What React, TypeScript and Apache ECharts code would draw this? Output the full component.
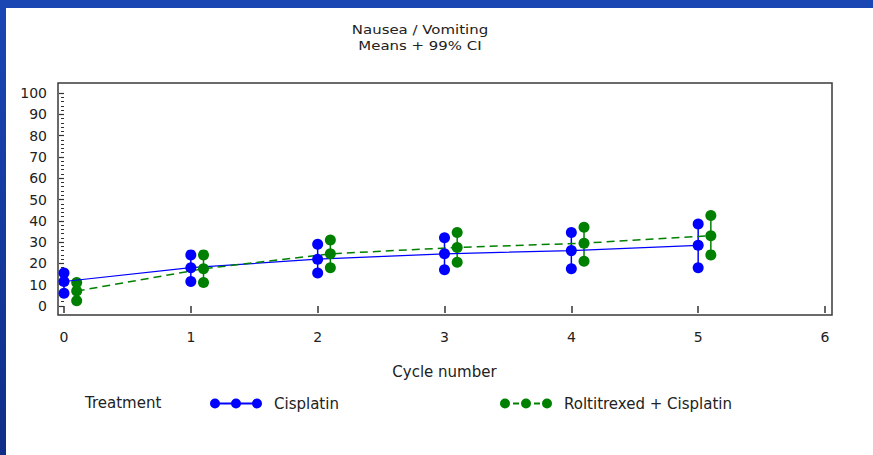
import React, { useEffect, useRef } from "react";
import * as echarts from "echarts";

// ---- data ----
const cycleTicks = [0, 1, 2, 3, 4, 5, 6];
const cisCycles = [0, 1, 2, 3, 4, 5];
const cisMean = [11.5, 18, 22, 24.5, 26, 28.5];
const cisLow = [6, 11.5, 15.5, 17, 17.5, 18];
const cisHigh = [15.5, 24, 29, 32, 34.5, 38.5];

const rcCycles = [0.1, 1.1, 2.1, 3.1, 4.1, 5.1];
const rcMean = [7, 17.5, 24.5, 27.5, 29.5, 33];
const rcLow = [2.5, 11, 18, 20.5, 21, 24];
const rcHigh = [11, 24, 31, 34.5, 37, 42.5];

const yTicks = [0, 10, 20, 30, 40, 50, 60, 70, 80, 90, 100];

const titleLines = ["Nausea / Vomiting", "Means + 99% CI"];
const xName = "Cycle number";
const legendTitle = "Treatment";
const seriesNames = ["Cisplatin", "Roltitrexed + Cisplatin"];

const FONT = "DejaVu Sans";
const BLUE = "#0000ff";
const GREEN = "#008000";
const TXT = "#222222";

// legend icons: three dots joined by a line (solid) or short dashes
const circ = (cx: number) =>
  `M${cx - 5},5 A5,5 0 1,1 ${cx + 5},5 A5,5 0 1,1 ${cx - 5},5 Z`;
const solidIcon =
  "path://" + circ(5) + circ(26) + circ(47) + "M5,4 L47,4 L47,6 L5,6 Z";
const dashIcon =
  "path://" +
  circ(5) +
  circ(26) +
  circ(47) +
  "M13,4 L19,4 L19,6 L13,6 Z M34,4 L40,4 L40,6 L34,6 Z";

function ciSeries(name: string, xs: number[], lo: number[], hi: number[], color: string) {
  return {
    type: "custom",
    name,
    z: 2,
    data: xs.map((x, i) => [x, lo[i], hi[i]]),
    encode: { x: 0, y: [1, 2] },
    renderItem: (_p: any, api: any) => {
      const x = api.value(0);
      const a = api.coord([x, api.value(1)]);
      const b = api.coord([x, api.value(2)]);
      return {
        type: "group",
        children: [
          {
            type: "line",
            shape: { x1: a[0], y1: a[1], x2: b[0], y2: b[1] },
            style: { stroke: color, lineWidth: 1.5 },
          },
          { type: "circle", shape: { cx: a[0], cy: a[1], r: 5.5 }, style: { fill: color } },
          { type: "circle", shape: { cx: b[0], cy: b[1], r: 5.5 }, style: { fill: color } },
        ],
      };
    },
  };
}

export default function App() {
  const ref = useRef<HTMLDivElement>(null);
  useEffect(() => {
    if (!ref.current) return;
    const chart = echarts.init(ref.current, undefined, { renderer: "svg" });
    const legendText = { fontFamily: FONT, fontSize: 15, color: TXT, padding: [0, 0, 0, 6] };
    const titleStyle = (t: string) => ({
      text: t,
      fontFamily: FONT,
      fontSize: 13,
      fill: TXT,
      textAlign: "center",
      textVerticalAlign: "middle",
    });
    chart.setOption({
      animation: false,
      backgroundColor: "#ffffff",
      textStyle: { fontFamily: FONT },
      grid: { left: 64, right: 48, top: 93, bottom: 149, containLabel: false },
      xAxis: {
        type: "value",
        min: cycleTicks[0],
        max: cycleTicks[cycleTicks.length - 1],
        interval: 1,
        offset: 9,
        name: xName,
        nameLocation: "middle",
        nameGap: 49,
        nameTextStyle: { fontFamily: FONT, fontSize: 15, color: TXT },
        axisLine: { show: false },
        axisTick: { show: true, length: 7, lineStyle: { color: "#333", width: 1.5 } },
        axisLabel: { margin: 15, fontFamily: FONT, fontSize: 14, color: TXT },
        splitLine: { show: false },
      },
      yAxis: {
        type: "value",
        min: yTicks[0],
        max: yTicks[yTicks.length - 1],
        interval: 10,
        offset: 6,
        axisLine: { show: false },
        axisTick: { show: true, length: 5, lineStyle: { color: "#333", width: 1.2 } },
        minorTick: { show: true, splitNumber: 5, length: 3, lineStyle: { color: "#333", width: 1 } },
        axisLabel: { margin: 11, fontFamily: FONT, fontSize: 14, color: TXT },
        splitLine: { show: false },
      },
      legend: [
        {
          data: [{ name: seriesNames[0], icon: solidIcon }],
          left: 205,
          top: 391,
          itemWidth: 54,
          itemHeight: 10,
          selectedMode: false,
          textStyle: legendText,
        },
        {
          data: [{ name: seriesNames[1], icon: dashIcon }],
          left: 495,
          top: 391,
          itemWidth: 54,
          itemHeight: 10,
          selectedMode: false,
          textStyle: legendText,
        },
      ],
      graphic: [
        {
          type: "rect",
          shape: { x: 0, y: 0, width: 873, height: 8 },
          style: { fill: "#1a46b4" },
          silent: true,
        },
        {
          type: "rect",
          shape: { x: 0, y: 0, width: 6, height: 455 },
          style: {
            fill: new echarts.graphic.LinearGradient(0, 0, 0, 1, [
              { offset: 0, color: "#1a46b4" },
              { offset: 1, color: "#0f2e88" },
            ]),
          },
          silent: true,
        },
        {
          type: "rect",
          shape: { x: 58, y: 83, width: 774, height: 232 },
          style: { fill: "none", stroke: "#3a3a3a", lineWidth: 1.5 },
          silent: true,
        },
        { type: "text", x: 420, y: 29, scaleX: 1.15, style: titleStyle(titleLines[0]) },
        { type: "text", x: 420, y: 45, scaleX: 1.15, style: titleStyle(titleLines[1]) },
        {
          type: "text",
          x: 85,
          y: 403,
          style: {
            text: legendTitle,
            fontFamily: FONT,
            fontSize: 15,
            fill: TXT,
            textAlign: "left",
            textVerticalAlign: "middle",
          },
        },
      ],
      series: [
        {
          type: "line",
          name: seriesNames[0],
          z: 3,
          data: cisCycles.map((x, i) => [x, cisMean[i]]),
          symbol: "circle",
          symbolSize: 11,
          color: BLUE,
          itemStyle: { color: BLUE },
          lineStyle: { color: BLUE, width: 1.2, type: "solid" },
        },
        ciSeries(seriesNames[0], cisCycles, cisLow, cisHigh, BLUE),
        {
          type: "line",
          name: seriesNames[1],
          z: 3,
          data: rcCycles.map((x, i) => [x, rcMean[i]]),
          symbol: "circle",
          symbolSize: 11,
          color: GREEN,
          itemStyle: { color: GREEN },
          lineStyle: { color: GREEN, width: 1.5, type: [8, 5] },
        },
        ciSeries(seriesNames[1], rcCycles, rcLow, rcHigh, GREEN),
      ],
    });
    return () => chart.dispose();
  }, []);
  return (
    <div
      ref={ref}
      style={{ position: "fixed", left: 0, top: 0, width: 873, height: 455 }}
    />
  );
}
